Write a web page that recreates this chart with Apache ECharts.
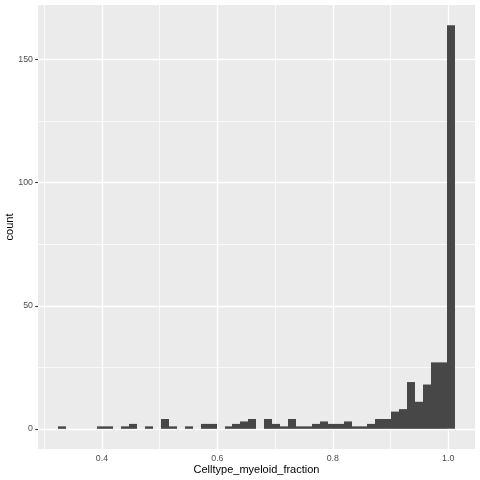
<!DOCTYPE html>
<html>
<head>
<meta charset="utf-8">
<script src="https://cdn.jsdelivr.net/npm/echarts@6/dist/echarts.min.js"></script>
<style>html,body{margin:0;padding:0;background:#fff}#c{width:480px;height:480px}</style>
</head>
<body>
<div id="c"></div>
<script>
// Histogram of Celltype_myeloid_fraction (50 bins)
const binStart = 0.3234;
const binWidth = 0.013761;
const counts = [1,0,0,0,0,1,1,0,1,2,
                0,1,0,4,1,0,1,0,2,2,
                0,1,2,3,4,0,4,2,1,4,
                1,1,2,3,2,2,3,1,1,2,
                4,4,7,8,19,11,18,27,27,164];
const xTicks = [0.4, 0.6, 0.8, 1.0];
const xMinor = [0.3, 0.5, 0.7, 0.9];
const yTicks = [0, 50, 100, 150];
const yMinor = [25, 75, 125];
const xTitle = 'Celltype_myeloid_fraction';
const yTitle = 'count';

const bins = counts.map((c, i) => [binStart + i * binWidth, binStart + (i + 1) * binWidth, c]);
const font = 'Liberation Sans, Arial, sans-serif';

const chart = echarts.init(document.getElementById('c'), null, {renderer: 'canvas'});
chart.setOption({
  animation: false,
  backgroundColor: '#ffffff',
  grid: {left: 38, right: 5, top: 5, bottom: 31, show: true, backgroundColor: '#EBEBEB', borderWidth: 0,
         containLabel: false, outerBoundsMode: 'none'},
  xAxis: {
    type: 'value', min: 0.2891, max: 1.0465,
    axisLine: {show: false},
    splitLine: {show: false},
    axisTick: {show: true, customValues: xTicks, length: 2.75, lineStyle: {color: '#333333', width: 1.1}},
    axisLabel: {show: true, customValues: xTicks, margin: 5, color: '#4D4D4D', fontSize: 8.8, fontFamily: font,
      formatter: v => v.toFixed(1)},
    name: xTitle, nameLocation: 'middle', nameGap: 15, nameMoveOverlap: false,
    nameTextStyle: {color: '#000', fontSize: 11, fontFamily: font}
  },
  yAxis: {
    type: 'value', min: -8.2, max: 172.2,
    axisLine: {show: false},
    splitLine: {show: false},
    axisTick: {show: true, customValues: yTicks, length: 2.75, lineStyle: {color: '#333333', width: 1.1}},
    axisLabel: {show: true, customValues: yTicks, margin: 5, color: '#4D4D4D', fontSize: 8.8, fontFamily: font},
    name: yTitle, nameLocation: 'middle', nameGap: 23, nameMoveOverlap: false,
    nameTextStyle: {color: '#000', fontSize: 11, fontFamily: font}
  },
  series: [
    {
      type: 'line', data: [], z: 1, silent: true,
      markLine: {
        silent: true, symbol: 'none', label: {show: false}, animation: false,
        data: [
          ...xMinor.map(v => ({xAxis: v, lineStyle: {color: '#ffffff', width: 0.7, type: 'solid'}})),
          ...yMinor.map(v => ({yAxis: v, lineStyle: {color: '#ffffff', width: 0.7, type: 'solid'}})),
          ...xTicks.map(v => ({xAxis: v, lineStyle: {color: '#ffffff', width: 1.4, type: 'solid'}})),
          ...yTicks.map(v => ({yAxis: v, lineStyle: {color: '#ffffff', width: 1.4, type: 'solid'}}))
        ]
      }
    },
    {
      type: 'custom', z: 5,
      data: bins,
      encode: {x: [0, 1], y: 2},
      renderItem: function (params, api) {
        const c = api.value(2);
        if (!c) return null;
        const p0 = api.coord([api.value(0), c]);
        const p1 = api.coord([api.value(1), 0]);
        const x0 = Math.round(p0[0]), x1 = Math.round(p1[0]);
        return {
          type: 'rect',
          shape: {x: x0, y: p0[1], width: x1 - x0, height: p1[1] - p0[1]},
          style: {fill: '#474747', stroke: null, lineWidth: 0}
        };
      }
    }
  ]
});
</script>
</body>
</html>
